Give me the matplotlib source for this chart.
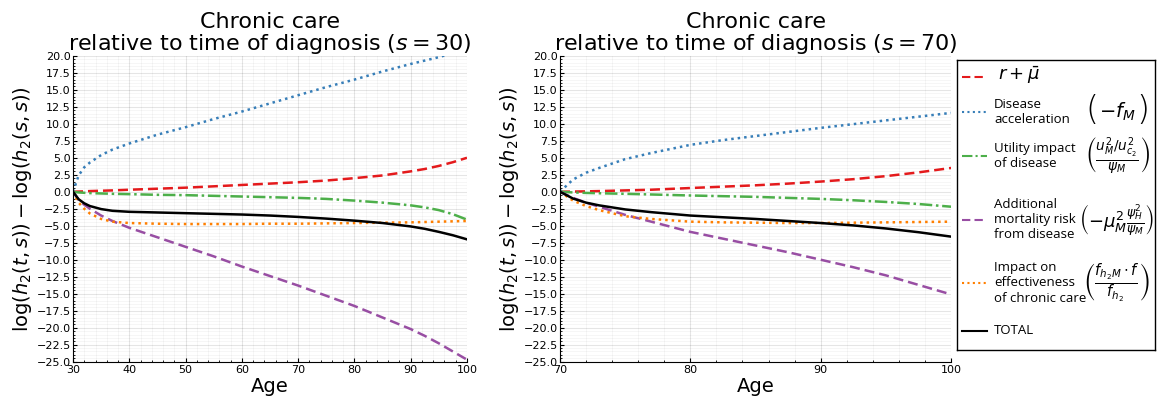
import matplotlib.pyplot as plt
from matplotlib.lines import Line2D
from matplotlib.ticker import MultipleLocator, AutoMinorLocator

# decomposition of log(h2(t,s)) - log(h2(s,s)) for diagnosis at s = 30
ages_30 = [30, 31, 32, 33, 35, 37, 40, 45, 50, 55, 60, 65, 70, 75, 80, 85, 90, 92.5, 95, 97.5, 100]
r_mu_30 = [0, 0.03, 0.06, 0.1, 0.15, 0.2, 0.3, 0.45, 0.6, 0.8, 1.0, 1.2, 1.4, 1.65, 2.0, 2.4, 3.0, 3.35, 3.8, 4.35, 5.0]
accel_30 = [0, 2.4, 3.6, 4.3, 5.4, 6.2, 7.1, 8.4, 9.5, 10.7, 11.8, 13.0, 14.2, 15.4, 16.5, 17.7, 18.8, 19.3, 19.8, 20.4, 20.9]
utility_30 = [0, -0.1, -0.15, -0.2, -0.25, -0.3, -0.35, -0.45, -0.5, -0.6, -0.7, -0.8, -0.9, -1.05, -1.3, -1.6, -2.0, -2.3, -2.7, -3.3, -4.1]
mort_30 = [0, -1.2, -1.9, -2.5, -3.5, -4.3, -5.3, -6.7, -8.1, -9.5, -11.0, -12.4, -13.8, -15.3, -16.8, -18.5, -20.2, -21.2, -22.3, -23.5, -24.7]
care_30 = [0, -1.6, -2.5, -3.2, -4.0, -4.4, -4.6, -4.7, -4.75, -4.75, -4.75, -4.7, -4.7, -4.65, -4.6, -4.55, -4.5, -4.45, -4.4, -4.35, -4.3]
total_30 = [0, -1.1, -1.7, -2.1, -2.55, -2.8, -2.95, -3.05, -3.15, -3.25, -3.35, -3.5, -3.7, -3.95, -4.25, -4.6, -5.1, -5.45, -5.9, -6.4, -7.0]

# same decomposition for diagnosis at s = 70
ages_70 = [70, 71, 72, 73, 75, 77, 80, 82.5, 85, 87.5, 90, 92.5, 95, 97.5, 100]
r_mu_70 = [0, 0.03, 0.06, 0.1, 0.2, 0.3, 0.55, 0.75, 0.95, 1.2, 1.5, 1.85, 2.3, 2.85, 3.5]
accel_70 = [0, 1.8, 2.8, 3.5, 4.8, 5.7, 6.9, 7.6, 8.2, 8.8, 9.4, 9.95, 10.5, 11.05, 11.6]
utility_70 = [0, -0.1, -0.17, -0.22, -0.3, -0.4, -0.55, -0.65, -0.75, -0.9, -1.05, -1.25, -1.5, -1.8, -2.2]
mort_70 = [0, -0.9, -1.6, -2.2, -3.4, -4.4, -5.9, -6.9, -7.9, -8.9, -10.0, -11.1, -12.3, -13.7, -15.1]
care_70 = [0, -1.3, -2.1, -2.7, -3.6, -4.0, -4.4, -4.5, -4.55, -4.6, -4.6, -4.55, -4.5, -4.45, -4.4]
total_70 = [0, -1.0, -1.6, -2.0, -2.6, -3.0, -3.5, -3.75, -4.0, -4.3, -4.6, -4.95, -5.4, -5.95, -6.6]

s_values = [30, 70]

styles = [
    dict(color="#e41a1c", ls=(0, (4, 2))),
    dict(color="#377eb8", ls=(0, (1, 1.6))),
    dict(color="#4daf4a", ls=(0, (5, 1.5, 1, 1.5))),
    dict(color="#984ea3", ls=(0, (4, 2))),
    dict(color="#ff7f00", ls=(0, (1, 1.6))),
    dict(color="black", ls="-"),
]

fig = plt.figure(figsize=(11.57, 4.03), dpi=100)
ax1 = fig.add_axes([0.0631, 0.1025, 0.3405, 0.759])
ax2 = fig.add_axes([0.4840, 0.1025, 0.3380, 0.759])

panels = [
    (ax1, ages_30, [r_mu_30, accel_30, utility_30, mort_30, care_30, total_30], s_values[0]),
    (ax2, ages_70, [r_mu_70, accel_70, utility_70, mort_70, care_70, total_70], s_values[1]),
]

for ax, ages, series, s in panels:
    for ys, st in zip(series, styles):
        ax.plot(ages, ys, lw=1.8, **st)
    ax.set_xlim(s, 100)
    ax.set_ylim(-25, 20)
    ax.xaxis.set_major_locator(MultipleLocator(10))
    ax.yaxis.set_major_locator(MultipleLocator(2.5))
    ax.xaxis.set_minor_locator(AutoMinorLocator(5))
    ax.yaxis.set_minor_locator(AutoMinorLocator(5))
    ax.grid(which="major", color="black", alpha=0.1, lw=0.8)
    ax.grid(which="minor", color="black", alpha=0.05, lw=0.5)
    ax.set_axisbelow(True)
    ax.spines["top"].set_visible(False)
    ax.spines["right"].set_visible(False)
    ax.tick_params(which="both", direction="in", labelsize=8, pad=1.5)
    ax.tick_params(axis="x", pad=2.5)
    ax.tick_params(which="major", length=3)
    ax.tick_params(which="minor", length=1.5)
    ax.set_xlabel("Age", fontsize=14, labelpad=1)
    ax.set_ylabel(r"$\log(h_2(t,s)) - \log(h_2(s,s))$", fontsize=14, labelpad=2)
    ax.set_title("Chronic care\nrelative to time of diagnosis ($s = %d$)" % s,
                 fontsize=16, pad=3, linespacing=1.0)

# legend panel with the formula for each term
lax = fig.add_axes([957 / 1157, 53 / 403, 198 / 1157, 290 / 403])
lax.set_xlim(957, 1155)
lax.set_ylim(350, 60)
lax.set_xticks([])
lax.set_yticks([])
for sp in lax.spines.values():
    sp.set_linewidth(1.0)

entries = [
    (77, None, r"$r + \bar{\mu}$", None, 0),
    (112, "Disease\nacceleration", None, r"$-f_M$", 14),
    (156, "Utility impact\nof disease", None, r"$\left(\frac{u_M^2/u_{c_2}^2}{\psi_M}\right)$", 14),
    (220, "Additional\nmortality risk\nfrom disease", None, r"$\left(-\mu_M^2\frac{\psi_H^2}{\psi_M}\right)$", 13),
    (283, "Impact on\neffectiveness\nof chronic care", None, r"$\left(\frac{f_{h_2M}\cdot f}{f_{h_2}}\right)$", 15),
    (331, "TOTAL", None, None, 0),
]

for (y, label, mlabel, formula, fsize), st in zip(entries, styles):
    lax.add_line(Line2D([962, 987], [y, y], lw=1.5, **st))
    if mlabel is not None:
        lax.text(998, y - 2, mlabel, fontsize=13, va="center", ha="left")
    if label is not None:
        lax.text(994, y, label, fontsize=9.5, va="center", ha="left",
                 family="Open Sans", linespacing=1.2)
    if formula is not None:
        lax.text(1117, y, formula, fontsize=fsize, va="center", ha="center")

# tall brackets around the single-symbol term
lax.text(1092, 110, "(", fontsize=24, va="center", ha="center", fontweight="light")
lax.text(1143, 110, ")", fontsize=24, va="center", ha="center", fontweight="light")

fig.savefig("out.png", dpi=100)
